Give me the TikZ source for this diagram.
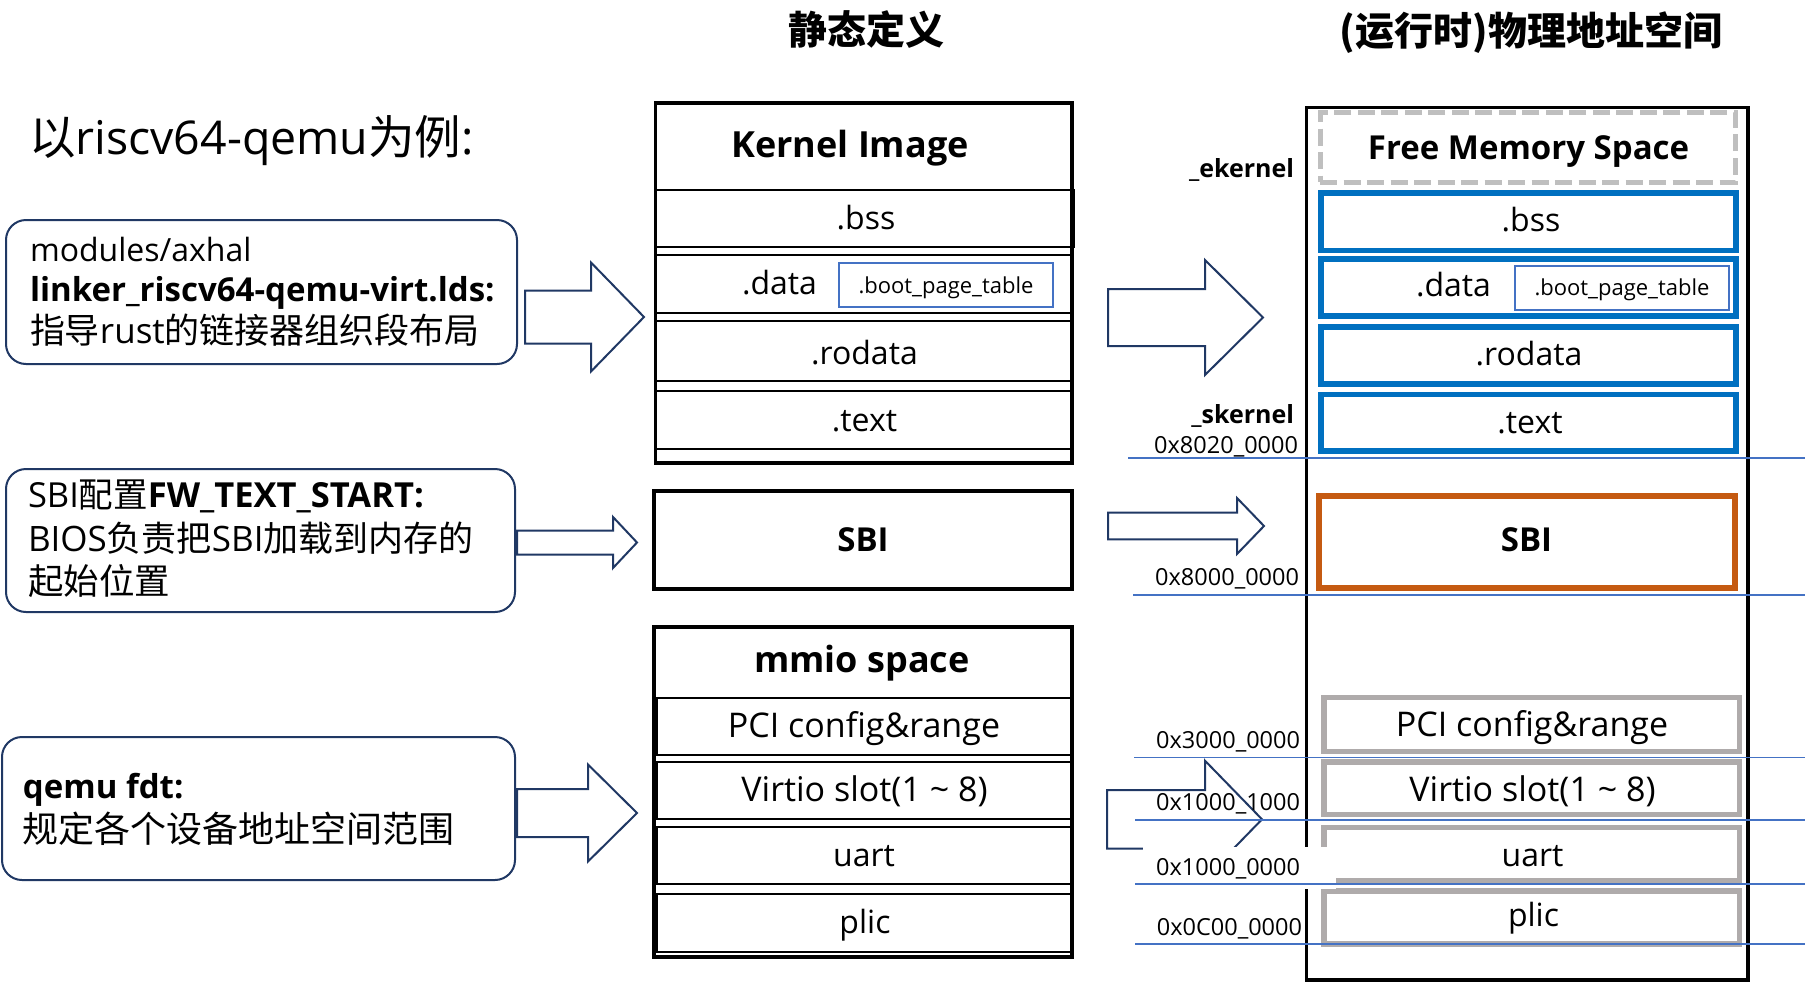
\documentclass[tikz,border=0pt]{standalone}
\usepackage{fontspec}
\setmainfont{Open Sans}
\newfontfamily\cjk{Noto Sans CJK SC}
\definecolor{navy}{HTML}{203864}
\definecolor{kblue}{HTML}{0070C0}
\definecolor{lblue}{HTML}{4472C4}
\definecolor{sbiorange}{HTML}{C55A11}
\definecolor{mgray}{HTML}{AFABAB}
\definecolor{dgray}{HTML}{BFBFBF}
\begin{document}
\begin{tikzpicture}[x=1pt,y=-1pt,
  fs/.style={font=\fontsize{#1}{#1}\selectfont},
  txt/.style={inner sep=0pt, outer sep=0pt, anchor=base},
  txtw/.style={inner sep=0pt, outer sep=0pt, anchor=base west},
  txte/.style={inner sep=0pt, outer sep=0pt, anchor=base east},
  emptybox/.style={inner sep=0pt, outer sep=0pt},
  infobox/.style={emptybox, draw=navy, line width=2pt, rounded corners=20pt},
  kouter/.style={emptybox, draw=black, line width=3.3pt},
  ksec/.style={emptybox, draw=black, line width=2pt},
  bootbox/.style={emptybox, draw=lblue, line width=2pt},
  bluesec/.style={emptybox, draw=kblue, line width=5.5pt},
  graysec/.style={emptybox, draw=mgray, line width=5.5pt},
  freebox/.style={emptybox, draw=dgray, line width=5pt, dash pattern=on 17pt off 6.5pt},
  sbibox/.style={emptybox, draw=sbiorange, line width=6pt},
  addrline/.style={draw=lblue, line width=1.8pt},
  pics/blockarrow/.style n args={4}{code={
    \draw[navy, fill=white, line width=2pt, line join=miter]
      (0,-#1) -- (#3,-#1) -- (#3,-#2) -- ({#3+#4},0) -- (#3,#2) -- (#3,#1) -- (0,#1) -- cycle;}},
]
\useasboundingbox[fill=white] (0,0) rectangle (1805,983);

% ---------- titles ----------
\node[txt, fs=39] (t1) at (866,44) {\cjk\bfseries 静态定义};
\node[txt, fs=39] (t2) at (1531,45) {\cjk\bfseries (运行时)物理地址空间};
\node[txtw, fs=46.5] (head) at (29,154) {{\cjk 以}riscv64-qemu{\cjk 为例}:};

% ---------- left info boxes ----------
\node[infobox, minimum width=511, minimum height=144] (b1) at (261.5,292) {};
\node[txtw, fs=32] (b1l1) at (30,261) {modules/axhal};
\node[txtw, fs=33] (b1l2) at (30,301) {\bfseries linker\_riscv64-qemu-virt.lds:};
\node[txtw, fs=35] (b1l3) at (30,343) {{\cjk 指导}rust{\cjk 的链接器组织段布局}};

\node[infobox, minimum width=509, minimum height=143] (b2) at (260.5,540.5) {};
\node[txtw, fs=34.5] (b2l1) at (28,507) {SBI{\cjk 配置}\textbf{FW\_TEXT\_START:}};
\node[txtw, fs=35] (b2l2) at (28,551) {BIOS{\cjk 负责把}SBI{\cjk 加载到内存的}};
\node[txtw, fs=35.5] (b2l3) at (28,594) {\cjk 起始位置};

\node[infobox, minimum width=513, minimum height=143] (b3) at (258.5,808.5) {};
\node[txtw, fs=33] (b3l1) at (23,798) {\bfseries qemu fdt:};
\node[txtw, fs=36] (b3l2) at (23,842) {\cjk 规定各个设备地址空间范围};

% ---------- left block arrows ----------
\coordinate (a1) at (525,317);
\coordinate (a2) at (517,542.5);
\coordinate (a3) at (517,813);
\pic at (a1) {blockarrow={26.5}{54.5}{66}{53}};
\pic at (a2) {blockarrow={12}{25.5}{96}{24}};
\pic at (a3) {blockarrow={24}{48.5}{71}{49}};

% ---------- static kernel image ----------
\node[kouter, minimum width=416.5, minimum height=360] (kimg) at (863.75,283) {};
\node[ksec, minimum width=417.5, minimum height=57] (kbss) at (864.75,218.5) {};
\node[ksec, minimum width=416, minimum height=58] (kdata) at (864,284) {};
\node[ksec, minimum width=416, minimum height=59.5] (krod) at (864,350.75) {};
\node[ksec, minimum width=416, minimum height=58.3] (ktext) at (864,419.85) {};
\node[bootbox, minimum width=214, minimum height=44] (kboot) at (946,285) {};
\node[txt, fs=36] (kimgl) at (850,157) {\bfseries Kernel Image};
\node[txt, fs=32] (kbssl) at (866,229) {.bss};
\node[txtw, fs=32] (kdatal) at (742,294) {.data};
\node[txt, fs=22] (kbootl) at (946,293) {.boot\_page\_table};
\node[txt, fs=32] (krodl) at (864.5,364) {.rodata};
\node[txt, fs=32] (ktextl) at (864.5,431) {.text};

% ---------- static SBI ----------
\node[kouter, minimum width=418, minimum height=98] (ssbi) at (863,540) {};
\node[txt, fs=33] (ssbil) at (863,551) {\bfseries SBI};

% ---------- static mmio ----------
\node[kouter, minimum width=418, minimum height=330] (mmio) at (863,792) {};
\node[ksec, minimum width=415.5, minimum height=57] (mpci) at (864.25,726.5) {};
\node[ksec, minimum width=415.5, minimum height=57] (mvirt) at (864.25,790.5) {};
\node[ksec, minimum width=415.5, minimum height=57] (muart) at (864.25,855.5) {};
\node[ksec, minimum width=415.5, minimum height=58] (mplic) at (864.25,923) {};
\node[txt, fs=36] (mmiol) at (862,672) {\bfseries mmio space};
\node[txt, fs=34] (mpcil) at (864,737.5) {PCI config\&range};
\node[txt, fs=34] (mvirtl) at (864.5,801.5) {Virtio slot(1 \textasciitilde\ 8)};
\node[txt, fs=32] (muartl) at (864,866.5) {uart};
\node[txt, fs=32] (mplicl) at (865,933) {plic};

% ---------- right block arrows ----------
\coordinate (r1) at (1108,317.5);
\coordinate (r2) at (1108,526);
\coordinate (r3) at (1107,819.3);
\pic at (r1) {blockarrow={28.5}{57.5}{97}{58}};
\pic at (r2) {blockarrow={13.3}{28}{129}{27}};

% ---------- physical address space ----------
\node[kouter, minimum width=441.5, minimum height=872.5] (phys) at (1527.25,543.75) {};
\node[freebox, minimum width=415.5, minimum height=69.5] (free) at (1527.75,147.25) {};
\node[txt, fs=33] (freel) at (1528.5,159) {\bfseries Free Memory Space};

\node[bluesec, minimum width=415, minimum height=57.5] (pbss) at (1528.5,221.75) {};
\node[bluesec, minimum width=415, minimum height=57] (pdata) at (1528.5,287.5) {};
\node[bluesec, minimum width=415, minimum height=57] (prod) at (1528.5,355.5) {};
\node[bluesec, minimum width=415, minimum height=56.5] (ptext) at (1528.5,422.75) {};
\node[bootbox, minimum width=214, minimum height=44] (pboot) at (1622,288) {};
\node[txt, fs=32] (pbssl) at (1531,231.7) {.bss};
\node[txtw, fs=32] (pdatal) at (1416,296.7) {.data};
\node[txt, fs=22] (pbootl) at (1622,295) {.boot\_page\_table};
\node[txt, fs=32] (prodl) at (1529,365.7) {.rodata};
\node[txt, fs=32] (ptextl) at (1530,433) {.text};

\node[sbibox, minimum width=416.5, minimum height=92] (psbi) at (1526.75,541.5) {};
\node[txt, fs=33] (psbil) at (1526.5,551.7) {\bfseries SBI};

\node[graysec, minimum width=415.5, minimum height=54] (ppci) at (1531.75,724.5) {};
\node[graysec, minimum width=415.5, minimum height=52.7] (pvirt) at (1531.75,788.3) {};
\node[graysec, minimum width=415.5, minimum height=53] (puart) at (1531.75,854.2) {};
\node[graysec, minimum width=415.5, minimum height=53] (pplic) at (1531.75,917.5) {};

\pic at (r3) {blockarrow={29.3}{58.6}{98}{57}};
\fill[white] (1143,847) rectangle (1336,889);

\node[txt, fs=34] (ppcil) at (1532,736.7) {PCI config\&range};
\node[txt, fs=34] (pvirtl) at (1532.5,801.7) {Virtio slot(1 \textasciitilde\ 8)};
\node[txt, fs=32] (puartl) at (1532.6,866.7) {uart};
\node[txt, fs=32] (pplicl) at (1533.5,926.7) {plic};

% ---------- address labels and lines ----------
\node[txte, fs=25] (ek) at (1294,177) {\bfseries \_ekernel};
\node[txte, fs=25] (sk) at (1294,423) {\bfseries \_skernel};
\node[txte, fs=23.5] (ad1) at (1298,453.3) {0x8020\_0000};
\node[txte, fs=23.5] (ad2) at (1299,585) {0x8000\_0000};
\node[txte, fs=23.5] (ad3) at (1300,748) {0x3000\_0000};
\node[txte, fs=23.5] (ad4) at (1300,810.7) {0x1000\_1000};
\node[txte, fs=23.5] (ad5) at (1300,875) {0x1000\_0000};
\node[txte, fs=23.5] (ad6) at (1302,935) {0x0C00\_0000};

\coordinate (l1a) at (1128,458.3);  \coordinate (l1b) at (1805,458.3);
\coordinate (l2a) at (1133,595);    \coordinate (l2b) at (1805,595);
\coordinate (l3a) at (1134,757.5);  \coordinate (l3b) at (1805,757.5);
\coordinate (l4a) at (1135,820);    \coordinate (l4b) at (1805,820);
\coordinate (l5a) at (1135,884.3);  \coordinate (l5b) at (1805,884.3);
\coordinate (l6a) at (1135,944.3);  \coordinate (l6b) at (1805,944.3);
\draw[addrline] (l1a) -- (l1b);
\draw[addrline] (l2a) -- (l2b);
\draw[addrline] (l3a) -- (l3b);
\draw[addrline] (l4a) -- (l4b);
\draw[addrline] (l5a) -- (l5b);
\draw[addrline] (l6a) -- (l6b);
\end{tikzpicture}
\end{document}
